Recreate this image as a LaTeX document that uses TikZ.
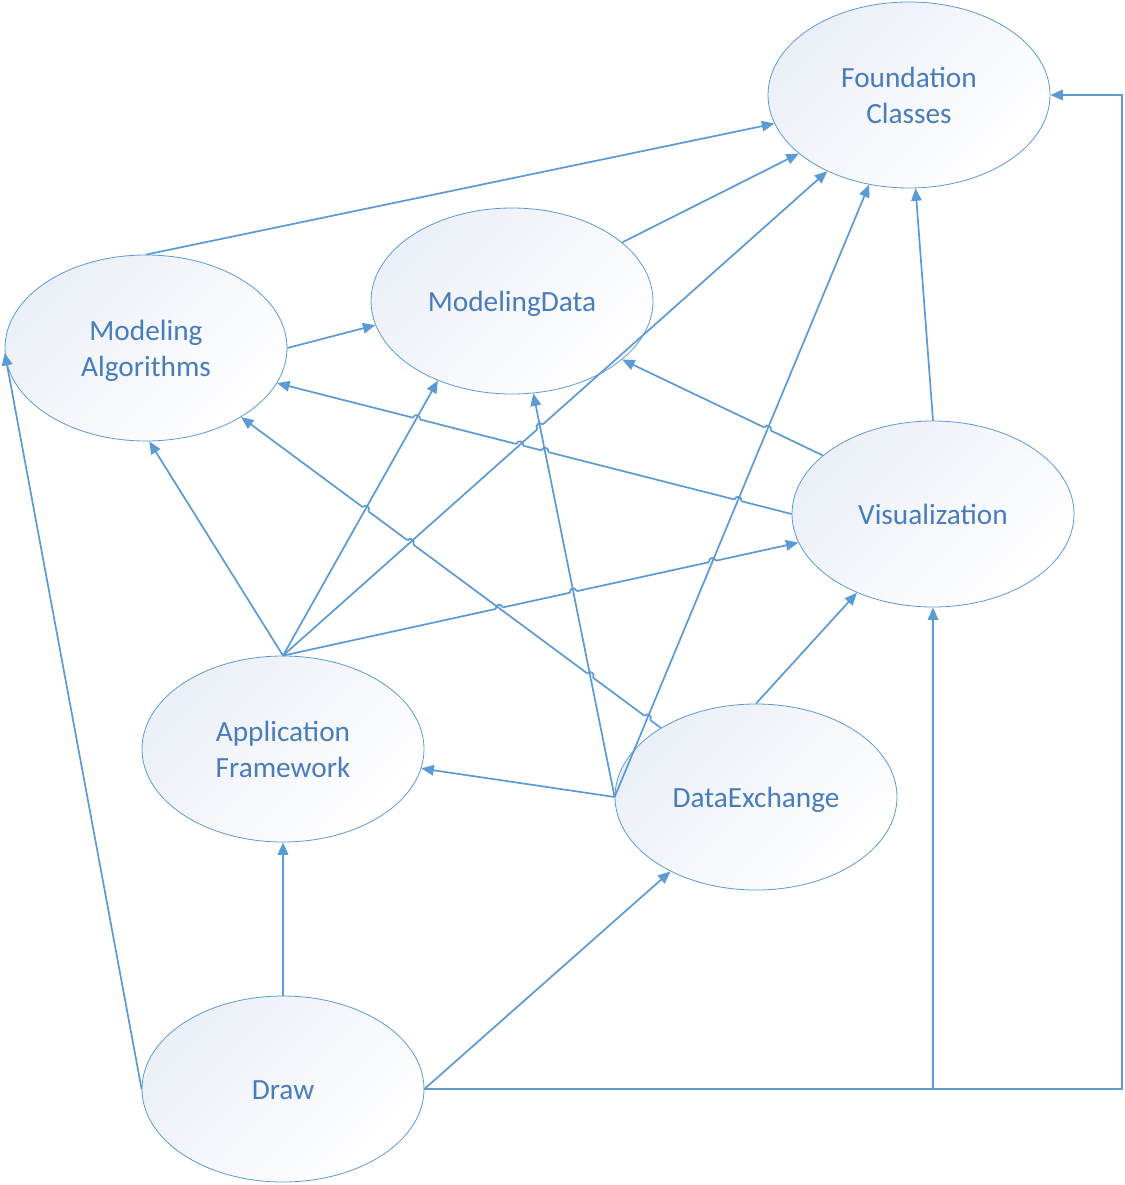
\documentclass[tikz,border=0pt]{standalone}
\usepackage{fontspec}
\setmainfont{Carlito}
\usetikzlibrary{shapes.geometric,arrows.meta,calc,intersections}
\definecolor{edgec}{RGB}{91,155,213}
\definecolor{textc}{RGB}{72,125,188}
\definecolor{fillc}{RGB}{235,239,247}
\newcommand\ntext[1]{\raisebox{-3pt}[\height][\depth]{\begin{tabular}{@{}c@{}}#1\end{tabular}}}
\tikzset{
  pkg/.style={ellipse, draw=edgec, line width=0.8pt, minimum width=282pt, minimum height=186pt,
    inner sep=0pt, top color=fillc, bottom color=white, shading angle=45, text=textc,
    font=\fontsize{29.3}{36}\selectfont},
  conn/.style={draw=edgec, line width=1.7pt, -{Triangle[length=12.5pt,width=10.5pt]}},
  plain/.style={draw=edgec, line width=1.7pt},
}
\newcommand\hop[4]{%
  \path[name path=hopL] (#1) -- (#2);
  \path[name path=hopM] (#3) -- (#4);
  \path[name intersections={of=hopL and hopM, by=hopX}];
  \coordinate (hopA) at ($(hopX)!3.5pt!(#1)$);
  \coordinate (hopB) at ($(hopX)!3.5pt!(#2)$);
  \draw[white, line width=3.8pt] (hopA) -- (hopB);
  \draw[plain] ($(hopX)!3pt!(#3)$) -- ($(hopX)!3pt!(#4)$);
  \draw[plain] (hopA) .. controls ($(hopA)!4.7pt!90:(hopB)$) and ($(hopB)!4.7pt!-90:(hopA)$) .. (hopB);
}
\begin{document}
\begin{tikzpicture}[x=1pt,y=-1pt]
\useasboundingbox (0,0) rectangle (1124,1185);
\fill[white] (0,0) rectangle (1124,1185);

\node[pkg] (fc)  at (909,95)   {\ntext{Foundation\\Classes}};
\node[pkg] (md)  at (512,301)  {\ntext{ModelingData}};
\node[pkg] (ma)  at (146,348)  {\ntext{Modeling\\Algorithms}};
\node[pkg] (vis) at (933,514)  {\ntext{Visualization}};
\node[pkg] (af)  at (283,749)  {\ntext{Application\\Framework}};
\node[pkg] (de)  at (756,797)  {\ntext{DataExchange}};
\node[pkg] (dr)  at (283,1089) {\ntext{Draw}};
\coordinate (cR) at (1122,0);

\draw[conn] (ma.north) -- (fc.192);
\draw[conn] (md.28) -- (fc.208);
\draw[conn] (ma.east) -- (md.190);
\draw[conn] (de.west) -- (md.283);
\draw[conn] (de.west) -- (fc.246);
\draw[conn] (af.north) -- (md.227);
\draw[conn] (af.north) -- (fc.223);
\draw[conn] (de.144) -- (ma.324);
\draw[conn] (af.north) -- (vis.192);
\draw[conn] (vis.180) -- (ma.345);
\draw[conn] (vis.152) -- (md.332);
\draw[conn] (vis.north) -- (fc.274);
\draw[conn] (af.north) -- (ma.272);
\draw[conn] (de.west) -- (af.352);
\draw[conn] (de.north) -- (vis.226);
\draw[conn] (dr.north) -- (af.south);
\draw[conn] (dr.west) -- (ma.182);
\draw[conn] (dr.east) -- (de.221);
\draw[conn] (dr.east) -| (vis.south);
\draw[conn] (dr.east) -- (dr.east -| cR) -- (cR |- fc.east) -- (fc.east);

% line jumps
\hop{af.north}{fc.223}{de.west}{md.283}
\hop{ma.324}{de.144}{af.north}{md.227}
\hop{ma.324}{de.144}{af.north}{fc.223}
\hop{ma.324}{de.144}{de.west}{md.283}
\hop{ma.324}{de.144}{de.west}{fc.246}
\hop{af.north}{vis.192}{ma.324}{de.144}
\hop{af.north}{vis.192}{de.west}{md.283}
\hop{af.north}{vis.192}{de.west}{fc.246}
\hop{ma.345}{vis.180}{af.north}{md.227}
\hop{ma.345}{vis.180}{af.north}{fc.223}
\hop{ma.345}{vis.180}{de.west}{md.283}
\hop{ma.345}{vis.180}{de.west}{fc.246}
\hop{md.332}{vis.152}{de.west}{fc.246}
\end{tikzpicture}
\end{document}
